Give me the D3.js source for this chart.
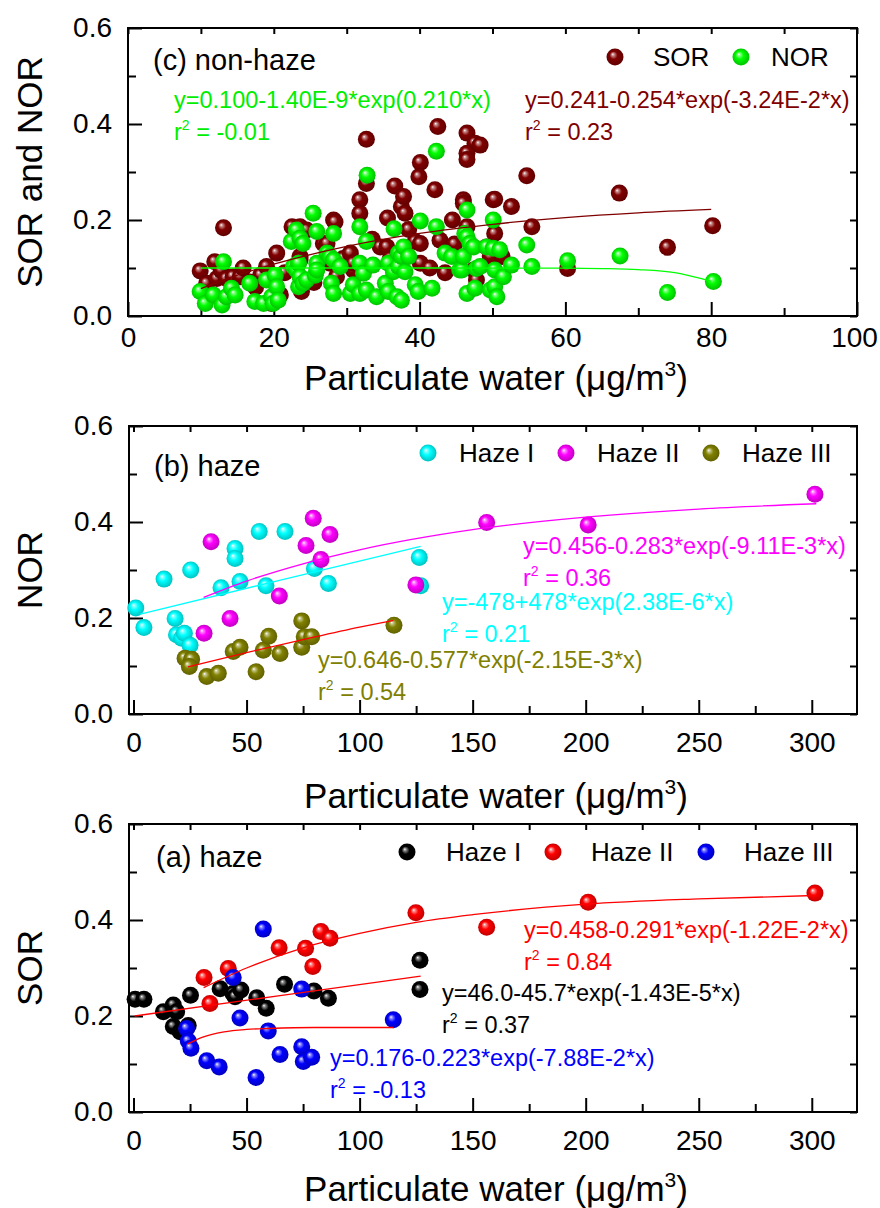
<!DOCTYPE html>
<html>
<head>
<meta charset="utf-8">
<script src="https://cdn.jsdelivr.net/npm/d3@7"></script>
<style>
  body { margin: 0; background: #fff; }
  text { font-family: Arial, "Liberation Sans", sans-serif; }
</style>
</head>
<body>
<svg id="chart" width="880" height="1208"></svg>
<script>
// ---- data ----
// (c) non-haze : [particulate water, ratio]
var sorNonHaze = [
  [9.9,0.094],[10.8,0.068],[11.9,0.113],[12.2,0.078],[12.8,0.095],[13.1,0.184],[13.5,0.078],[14.4,0.082],
  [15.4,0.082],[15.8,0.1],[16.7,0.071],[17.5,0.06],[18.2,0.085],[19.0,0.103],[19.7,0.026],[20.4,0.131],
  [20.9,0.044],[21.5,0.09],[22.5,0.186],[23.6,0.186],[24.5,0.179],[23.6,0.124],[23.6,0.117],[23.8,0.051],
  [23.6,0.061],[25.5,0.07],[26.8,0.151],[27.3,0.151],[27.7,0.11],[28.2,0.2],[28.4,0.196],[28.6,0.082],
  [29.5,0.12],[30.5,0.131],[30.9,0.096],[30.9,0.11],[31.8,0.242],[31.8,0.214],[32.7,0.276],[32.7,0.368],
  [33.5,0.16],[34.6,0.144],[35.5,0.144],[35.6,0.204],[36,0.12],[36.6,0.271],[37.5,0.228],[37.8,0.249],
  [38,0.214],[38.5,0.18],[39.4,0.155],[40.1,0.151],[40.1,0.11],[40.1,0.32],[39.9,0.29],[41.4,0.1],
  [42.1,0.263],[42.5,0.395],[42.8,0.158],[43.5,0.09],[44.5,0.2],[44.8,0.15],[46,0.242],[46,0.235],
  [46.5,0.381],[47.6,0.36],[46.5,0.339],[46.5,0.326],[46.5,0.186],[47.4,0.096],[47.8,0.075],[49.2,0.144],
  [49.7,0.124],[51.3,0.124],[48.3,0.356],[50.1,0.242],[50.3,0.243],[50.3,0.172],[52.6,0.228],[54.7,0.292],
  [55.4,0.186],[60.3,0.099],[67.4,0.256],[74,0.143],[80.2,0.188]
];
var norNonHaze = [
  [9.9,0.051],[10.6,0.026],[11.7,0.044],[12.9,0.023],[13.1,0.113],[13.5,0.04],[14.2,0.058],[14.7,0.044],
  [16.7,0.068],[17.4,0.03],[18.6,0.026],[19,0.075],[19.7,0.04],[19.9,0.026],[20.2,0.085],[20.4,0.061],
  [20.6,0.033],[22.4,0.155],[22.7,0.103],[23.1,0.179],[23.1,0.096],[23.4,0.11],[23.4,0.061],[23.6,0.162],
  [23.6,0.082],[24,0.151],[24,0.068],[24.5,0.075],[25.4,0.214],[25.7,0.085],[25.9,0.176],[25.9,0.11],
  [25.9,0.096],[27.3,0.131],[27.7,0.124],[27.9,0.068],[28.2,0.172],[28.2,0.117],[28.2,0.047],[29.1,0.103],
  [30.5,0.047],[30.9,0.065],[31.8,0.186],[31.8,0.11],[31.8,0.047],[32.3,0.089],[32.7,0.155],[32.7,0.054],
  [32.8,0.293],[33.6,0.106],[34.1,0.04],[35.3,0.068],[35.7,0.11],[35.7,0.051],[36.4,0.092],[36.5,0.182],
  [36.9,0.04],[37.1,0.131],[37.1,0.103],[37.5,0.124],[37.5,0.033],[37.8,0.144],[38,0.092],[38.5,0.124],
  [39.4,0.065],[39.8,0.051],[40.1,0.198],[41.7,0.058],[42.3,0.186],[42.3,0.343],[43.5,0.131],[44.4,0.124],
  [45.5,0.096],[45.8,0.096],[46,0.124],[46.2,0.172],[46.5,0.221],[46.5,0.165],[46.5,0.047],[46.9,0.151],
  [47.4,0.144],[47.6,0.058],[47.8,0.099],[48.3,0.103],[49.2,0.144],[49.7,0.054],[50.1,0.2],[50.1,0.141],
  [50.3,0.096],[50.3,0.061],[50.6,0.04],[51,0.138],[51.5,0.082],[52.6,0.106],[54.7,0.148],[55.4,0.103],
  [60.3,0.115],[67.5,0.125],[74,0.049],[80.3,0.072]
];
// fitted curves as drawn in (c)
var fitSorNonHaze = [[10,0.057],[15,0.085],[20,0.108],[30,0.145],[40,0.172],[50,0.191],[60,0.205],[70,0.215],[80,0.222]];
var fitNorNonHaze = [[10,0.1],[40,0.1],[60,0.0996],[65,0.0988],[70,0.0966],[75,0.0903],[80,0.0723]];

// (b) haze, NOR
var norHazeI = [
  [1,0.221],[4.6,0.18],[13.5,0.281],[18.4,0.199],[19,0.165],[21.3,0.158],[22.5,0.168],[25,0.143],
  [25.3,0.3],[38.7,0.263],[44.9,0.345],[44.9,0.324],[47.1,0.276],[55.6,0.38],[58.6,0.267],[67,0.38],
  [80,0.303],[86.2,0.272],[126.4,0.326],[127,0.267]
];
var norHazeII = [
  [31.2,0.168],[34.3,0.359],[42.7,0.199],[64.5,0.246],[76.3,0.351],[79.5,0.408],[82.9,0.322],[86.9,0.374],
  [124.9,0.269],[156.2,0.399],[201.1,0.394],[301.4,0.458]
];
var norHazeIII = [
  [22.8,0.116],[25.7,0.114],[24.7,0.099],[32.4,0.078],[37.5,0.085],[44.1,0.13],[47.1,0.139],[54.2,0.088],
  [57.4,0.133],[59.8,0.162],[64.8,0.126],[74.4,0.194],[74.4,0.139],[75.5,0.161],[78.8,0.161],[115.2,0.185]
];
var fitNorHazeI = [[3,0.208],[65,0.279],[127,0.349]];
var fitNorHazeII = [[31,0.243],[50,0.277],[75,0.313],[100,0.342],[150,0.384],[200,0.41],[250,0.427],[302,0.438]];
var fitNorHazeIII = [[24,0.098],[50,0.128],[75,0.155],[100,0.181],[115,0.195]];

// (a) haze, SOR
var sorHazeI = [
  [0.7,0.235],[4.6,0.235],[13.2,0.209],[17.6,0.223],[19.1,0.209],[17.6,0.178],[20.6,0.167],[22,0.17],
  [24.2,0.18],[25.2,0.243],[38.3,0.257],[44,0.247],[44.9,0.24],[47.5,0.254],[54.5,0.238],[58.7,0.216],
  [66.8,0.266],[79.8,0.252],[86.2,0.237],[126.7,0.316],[126.7,0.255]
];
var sorHazeII = [
  [31.2,0.28],[33.8,0.226],[41.9,0.299],[64.4,0.342],[76.1,0.341],[79.3,0.303],[82.9,0.376],[86.9,0.362],
  [124.9,0.415],[156.2,0.385],[201.1,0.437],[301.4,0.456]
];
var sorHazeIII = [
  [23.5,0.174],[24.2,0.148],[25.4,0.133],[32.4,0.107],[37.9,0.094],[44.1,0.28],[47.1,0.196],[54.2,0.072],
  [57.4,0.381],[59.6,0.169],[64.8,0.12],[74.4,0.256],[74.4,0.136],[75.1,0.105],[78.8,0.114],[114.9,0.192]
];
var fitSorHazeI = [[0.5,0.2],[64,0.242],[127,0.283]];
var fitSorHazeII = [[31,0.259],[50,0.3],[75,0.342],[100,0.372],[125,0.395],[150,0.411],[200,0.433],[250,0.444],[301,0.451]];
var fitSorHazeIII = [[24,0.142],[30,0.155],[40,0.167],[50,0.172],[60,0.174],[80,0.176],[115,0.176]];

var yTicksMajor = [0, 0.2, 0.4, 0.6];
var yTicksMinor = [0.1, 0.3, 0.5];
var xTicksC = [0, 20, 40, 60, 80, 100];
var xMinorC = [10, 30, 50, 70, 90];
var xTicksAB = [0, 50, 100, 150, 200, 250, 300];
var xMinorAB = [25, 75, 125, 175, 225, 275];

// ---- drawing ----
var svg = d3.select("#chart");
var defs = svg.append("defs");
var gradCount = 0;

function sphere(color) {
  var id = "sph" + (gradCount++);
  var gr = defs.append("radialGradient").attr("id", id)
    .attr("cx", 0.5).attr("cy", 0.5).attr("r", 0.55)
    .attr("fx", 0.36).attr("fy", 0.33);
  var c = d3.color(color);
  gr.append("stop").attr("offset", "0%").attr("stop-color", "#fff");
  gr.append("stop").attr("offset", "14%").attr("stop-color", d3.interpolateRgb(color, "#fff")(0.55));
  gr.append("stop").attr("offset", "42%").attr("stop-color", color);
  gr.append("stop").attr("offset", "100%").attr("stop-color", c.darker(0.9));
  return "url(#" + id + ")";
}

function panel(o) {
  var x = d3.scaleLinear().domain(o.xDomain).range([o.left, 857]);
  var y = d3.scaleLinear().domain([0, 0.6]).range([o.bottom, o.bottom - 288]);
  var g = svg.append("g");

  function clean(sel) {
    sel.select(".domain").remove();
    sel.selectAll(".tick line").attr("stroke", "#000").attr("stroke-width", 2);
    sel.attr("font-size", 28).attr("font-family", "Arial, 'Liberation Sans', sans-serif");
    sel.selectAll(".tick text").attr("fill", "#000");
  }

  var xb = g.append("g").attr("transform", "translate(0," + o.bottom + ")")
    .call(d3.axisBottom(x).tickValues(o.xMajor).tickSize(-14).tickPadding(o.pad).tickFormat(d3.format("d")))
    .call(clean);
  // keep the last label inside the page
  xb.selectAll(".tick text").filter(function(d) { return x(d) + 24 > 878; }).attr("dx", -3);
  g.append("g").attr("transform", "translate(0," + o.bottom + ")")
    .call(d3.axisBottom(x).tickValues(o.xMinor).tickSize(-8).tickFormat(""))
    .call(clean);
  g.append("g").attr("transform", "translate(0," + (o.bottom - 288) + ")")
    .call(d3.axisTop(x).tickValues(o.xMajor.concat(o.xMinor)).tickSize(-6).tickFormat(""))
    .call(clean);
  g.append("g").attr("transform", "translate(" + o.left + ",0)")
    .call(d3.axisLeft(y).tickValues(yTicksMajor).tickSize(-14).tickPadding(16).tickFormat(d3.format(".1f")))
    .call(clean);
  g.append("g").attr("transform", "translate(" + o.left + ",0)")
    .call(d3.axisLeft(y).tickValues(yTicksMinor).tickSize(-8).tickFormat(""))
    .call(clean);
  g.append("g").attr("transform", "translate(857,0)")
    .call(d3.axisRight(y).tickValues(yTicksMajor.concat(yTicksMinor)).tickSize(-7).tickFormat(""))
    .call(clean);

  g.append("rect").attr("x", o.left).attr("y", o.bottom - 288)
    .attr("width", 857 - o.left).attr("height", 288)
    .attr("fill", "none").attr("stroke", "#000").attr("stroke-width", 2);

  // points
  o.series.forEach(function(s) {
    var fill = sphere(s.color);
    g.append("g").selectAll("circle").data(s.data).join("circle")
      .attr("cx", function(d) { return x(d[0]); })
      .attr("cy", function(d) { return y(d[1]); })
      .attr("r", 8.5)
      .attr("fill", fill);
  });

  // fit lines
  var line = d3.line()
    .x(function(d) { return x(d[0]); })
    .y(function(d) { return y(d[1]); })
    .curve(d3.curveMonotoneX);
  o.fits.forEach(function(f) {
    g.append("path").attr("d", line(f.data))
      .attr("fill", "none").attr("stroke", f.color).attr("stroke-width", 1.3);
  });

  // legend
  o.legend.forEach(function(l) {
    g.append("circle").attr("cx", l.mx).attr("cy", l.my).attr("r", 8.5).attr("fill", sphere(l.color));
    g.append("text").attr("x", l.tx).attr("y", l.my + 9).attr("font-size", 26).text(l.label);
  });

  // equations
  o.eqs.forEach(function(e) {
    g.append("text").attr("x", e.x).attr("y", e.y).attr("font-size", 23.5)
      .attr("fill", e.color).text(e.eq);
    var t = g.append("text").attr("x", e.x).attr("y", e.y + 32).attr("font-size", 23.5).attr("fill", e.color);
    t.append("tspan").text("r");
    t.append("tspan").attr("font-size", 14).attr("dy", -10).text("2");
    t.append("tspan").attr("dy", 10).text(" = " + e.r2);
  });

  // panel label
  g.append("text").attr("x", o.labelX).attr("y", o.labelY).attr("font-size", 29).text(o.label);

  // axis titles
  var xt = g.append("text").attr("x", 496).attr("y", o.xTitleY)
    .attr("text-anchor", "middle").attr("font-size", 35);
  xt.append("tspan").text("Particulate water (\u03bcg/m");
  xt.append("tspan").attr("font-size", 21).attr("dy", -14).text("3");
  xt.append("tspan").attr("dy", 14).text(")");

  g.append("text").attr("transform", "translate(42," + (o.bottom - 144) + ") rotate(-90)")
    .attr("text-anchor", "middle").attr("font-size", 35).text(o.yTitle);
}

panel({
  left: 128, bottom: 316, xDomain: [0, 100], xMajor: xTicksC, xMinor: xMinorC, pad: 11,
  series: [{data: sorNonHaze, color: "#800000"}, {data: norNonHaze, color: "#00ff00"}],
  fits: [{data: fitSorNonHaze, color: "#800000"}, {data: fitNorNonHaze, color: "#00ff00"}],
  legend: [
    {mx: 615, my: 57, tx: 653, label: "SOR", color: "#800000"},
    {mx: 741, my: 57, tx: 771, label: "NOR", color: "#00ff00"}
  ],
  eqs: [
    {x: 174, y: 108, color: "#00ee00", eq: "y=0.100-1.40E-9*exp(0.210*x)", r2: "-0.01"},
    {x: 525, y: 108, color: "#800000", eq: "y=0.241-0.254*exp(-3.24E-2*x)", r2: "0.23"}
  ],
  label: "(c) non-haze", labelX: 153, labelY: 70,
  xTitleY: 390, yTitle: "SOR and NOR"
});

panel({
  left: 129, bottom: 714, xDomain: [-2, 320], xMajor: xTicksAB, xMinor: xMinorAB, pad: 18,
  series: [{data: norHazeI, color: "#00ffff"}, {data: norHazeII, color: "#ff00ff"}, {data: norHazeIII, color: "#808000"}],
  fits: [{data: fitNorHazeI, color: "#00ffff"}, {data: fitNorHazeII, color: "#ff00ff"}, {data: fitNorHazeIII, color: "#ff0000"}],
  legend: [
    {mx: 428, my: 453, tx: 459, label: "Haze I", color: "#00ffff"},
    {mx: 566, my: 453, tx: 597, label: "Haze II", color: "#ff00ff"},
    {mx: 711, my: 453, tx: 742, label: "Haze III", color: "#808000"}
  ],
  eqs: [
    {x: 523, y: 554, color: "#ff00ff", eq: "y=0.456-0.283*exp(-9.11E-3*x)", r2: "0.36"},
    {x: 442, y: 610, color: "#00ffff", eq: "y=-478+478*exp(2.38E-6*x)", r2: "0.21"},
    {x: 318, y: 668, color: "#808000", eq: "y=0.646-0.577*exp(-2.15E-3*x)", r2: "0.54"}
  ],
  label: "(b) haze", labelX: 154, labelY: 476,
  xTitleY: 808, yTitle: "NOR"
});

panel({
  left: 129, bottom: 1112, xDomain: [-2, 320], xMajor: xTicksAB, xMinor: xMinorAB, pad: 18,
  series: [{data: sorHazeI, color: "#000000"}, {data: sorHazeII, color: "#ff0000"}, {data: sorHazeIII, color: "#0000ff"}],
  fits: [{data: fitSorHazeI, color: "#ff0000"}, {data: fitSorHazeII, color: "#ff0000"}, {data: fitSorHazeIII, color: "#ff0000"}],
  legend: [
    {mx: 407, my: 852, tx: 446, label: "Haze I", color: "#000000"},
    {mx: 553, my: 852, tx: 591, label: "Haze II", color: "#ff0000"},
    {mx: 706, my: 852, tx: 744, label: "Haze III", color: "#0000ff"}
  ],
  eqs: [
    {x: 524, y: 938, color: "#ff0000", eq: "y=0.458-0.291*exp(-1.22E-2*x)", r2: "0.84"},
    {x: 442, y: 1001, color: "#000000", eq: "y=46.0-45.7*exp(-1.43E-5*x)", r2: "0.37"},
    {x: 330, y: 1066, color: "#0000ff", eq: "y=0.176-0.223*exp(-7.88E-2*x)", r2: "-0.13"}
  ],
  label: "(a) haze", labelX: 156, labelY: 867,
  xTitleY: 1201, yTitle: "SOR"
});
</script>
</body>
</html>
